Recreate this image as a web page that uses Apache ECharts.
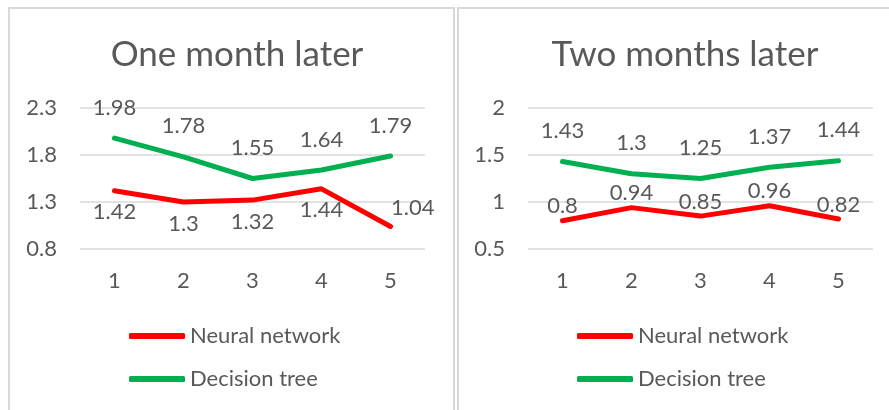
<!DOCTYPE html>
<html>
<head>
<meta charset="utf-8">
<script src="https://cdn.jsdelivr.net/npm/echarts@6/dist/echarts.min.js"></script>
<style>
  html, body { margin: 0; padding: 0; background: #fff; }
  #chart { width: 889px; height: 410px; }
</style>
</head>
<body>
<div id="chart"></div>
<script>
// data
var categories = ['1', '2', '3', '4', '5'];
var seriesNames = ['Neural network', 'Decision tree'];

var oneMonthNN = [1.42, 1.3, 1.32, 1.44, 1.04];
var oneMonthDT = [1.98, 1.78, 1.55, 1.64, 1.79];
var oneMonthTicks = [0.8, 1.3, 1.8, 2.3];

var twoMonthNN = [0.8, 0.94, 0.85, 0.96, 0.82];
var twoMonthDT = [1.43, 1.3, 1.25, 1.37, 1.44];
var twoMonthTicks = [0.5, 1, 1.5, 2];

var RED = '#ff0000', GREEN = '#00b050', TXT = '#595959', GRID = '#d9d9d9';
var FONT = 'Lato, "Liberation Sans", sans-serif';

var chart = echarts.init(document.getElementById('chart'));

function yAxis(idx, ticks) {
  return {
    type: 'value', gridIndex: idx,
    min: ticks[0], max: ticks[ticks.length - 1],
    interval: ticks[1] - ticks[0],
    axisLine: { show: false }, axisTick: { show: false },
    axisLabel: {
      color: TXT, fontSize: 22, fontFamily: FONT, margin: 23,
      formatter: function (v) { return String(Math.round(v * 10) / 10); }
    },
    splitLine: { lineStyle: { color: GRID, width: 1.5 } }
  };
}

function xAxis(idx) {
  return {
    type: 'category', gridIndex: idx, data: categories, boundaryGap: true,
    axisLine: { show: false }, axisTick: { show: false },
    axisLabel: { color: TXT, fontSize: 22, fontFamily: FONT, margin: 21 }
  };
}

var labelBase = { show: true, color: TXT, fontSize: 22, fontFamily: FONT };

function line(name, idx, data, color, label) {
  return {
    name: name, type: 'line', xAxisIndex: idx, yAxisIndex: idx,
    data: data, symbol: 'circle', symbolSize: 1, showSymbol: true, smooth: false,
    lineStyle: { color: color, width: 5, cap: 'round', join: 'round' },
    itemStyle: { color: color },
    label: Object.assign({}, labelBase, label)
  };
}

// the last neural-network label of the first chart sits up-right of its point
var oneMonthNNData = oneMonthNN.map(function (v, i) {
  if (i === oneMonthNN.length - 1) {
    return { value: v, label: { position: 'right', distance: 0, offset: [0, -19] } };
  }
  return v;
});

function legend(left) {
  return {
    left: left, top: 320, orient: 'vertical', itemGap: 21,
    itemWidth: 56, itemHeight: 6, icon: 'roundRect',
    textStyle: { color: TXT, fontSize: 22, fontFamily: FONT },
    data: seriesNames
  };
}

var option = {
  animation: false,
  backgroundColor: '#fff',
  graphic: [
    { type: 'rect', shape: { x: 9, y: 8, width: 445, height: 420 },
      style: { fill: 'none', stroke: GRID, lineWidth: 2 } },
    { type: 'rect', shape: { x: 458, y: 8, width: 460, height: 420 },
      style: { fill: 'none', stroke: GRID, lineWidth: 2 } }
  ],
  title: [
    { text: 'One month later', left: 232, top: 32, textAlign: 'center',
      textStyle: { color: TXT, fontSize: 35, fontWeight: 'normal', fontFamily: FONT } },
    { text: 'Two months later', left: 680, top: 32, textAlign: 'center',
      textStyle: { color: TXT, fontSize: 35, fontWeight: 'normal', fontFamily: FONT } }
  ],
  legend: [legend(124), legend(572)],
  grid: [
    { left: 80, top: 108, width: 345, height: 141 },
    { left: 528, top: 108, width: 345, height: 141 }
  ],
  xAxis: [xAxis(0), xAxis(1)],
  yAxis: [yAxis(0, oneMonthTicks), yAxis(1, twoMonthTicks)],
  series: [
    line(seriesNames[0], 0, oneMonthNNData, RED, { position: 'bottom', distance: 10 }),
    line(seriesNames[1], 0, oneMonthDT, GREEN, { position: 'top', distance: 19 }),
    line(seriesNames[0], 1, twoMonthNN, RED, { position: 'top', distance: 3 }),
    line(seriesNames[1], 1, twoMonthDT, GREEN, { position: 'top', distance: 19 })
  ]
};

chart.setOption(option);
</script>
</body>
</html>
